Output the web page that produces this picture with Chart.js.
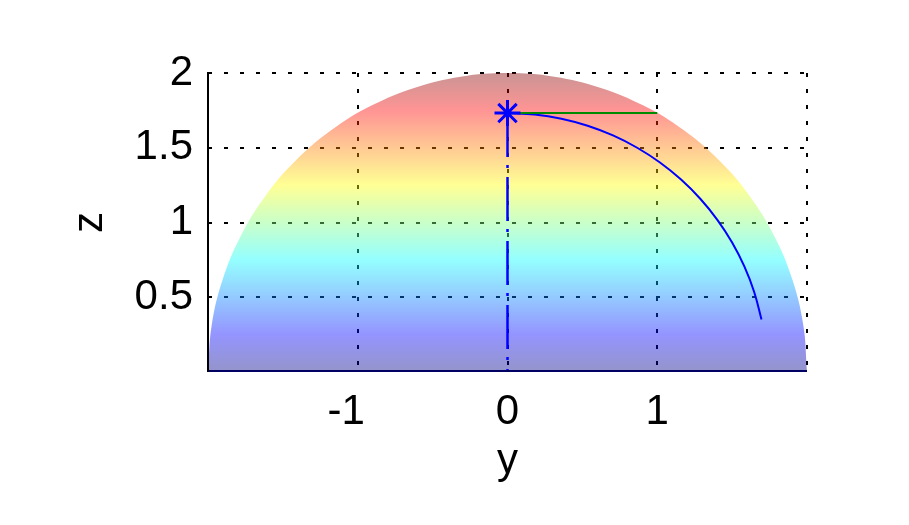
<!DOCTYPE html>
<html>
<head>
<meta charset="utf-8">
<script src="https://cdn.jsdelivr.net/npm/chart.js@4.4.1/dist/chart.umd.min.js"></script>
<style>
html,body{margin:0;padding:0;background:#ffffff;}
#c{display:block;}
</style>
</head>
<body>
<canvas id="c" width="909" height="525"></canvas>
<script>
// ---- data ----
// silhouette of the hemisphere (radius 2), horizontal coordinate "y", vertical "z"
const domeY = [-2, -1.9754, -1.9021, -1.7820, -1.6180, -1.4142, -1.1756, -0.9080, -0.6180, -0.3129, 0,
               0.3129, 0.6180, 0.9080, 1.1756, 1.4142, 1.6180, 1.7820, 1.9021, 1.9754, 2];
const domeZ = [0, 0.3129, 0.6180, 0.9080, 1.1756, 1.4142, 1.6180, 1.7820, 1.9021, 1.9754, 2,
               1.9754, 1.9021, 1.7820, 1.6180, 1.4142, 1.1756, 0.9080, 0.6180, 0.3129, 0];
// blue trajectory
const arcY = [0, 0.1811, 0.3601, 0.5353, 0.7045, 0.8660, 1.0181, 1.1590, 1.2872, 1.4013, 1.5, 1.5823, 1.6473, 1.6961];
const arcZ = [1.7321, 1.7226, 1.6943, 1.6473, 1.5823, 1.5, 1.4013, 1.2872, 1.1590, 1.0181, 0.8660, 0.7045, 0.5353, 0.3513];
// green segment
const greenY = [0, 1];
const greenZ = [1.7321, 1.7321];
// dash-dot drop line
const dropY = [0, 0];
const dropZ = [1.7321, 0];
// star marker
const markerY = [0];
const markerZ = [1.7321];
// ticks
const xTickValues = [-1, 0, 1];
const xTickLabels = ['-1', '0', '1'];
const xGridValues = [-1, 0, 1, 2];
const yTickValues = [0.5, 1, 1.5, 2];
const yTickLabels = ['0.5', '1', '1.5', '2'];
const xTitle = 'y';
const yTitle = 'z';

// ---- helpers ----
const FONT = "'Liberation Sans', Arial, Helvetica, sans-serif";
const pts = (xs, ys) => xs.map((x, i) => ({x: x, y: ys[i]}));

function jetFill(context) {
  const chart = context.chart;
  const {ctx, chartArea, scales} = chart;
  if (!chartArea) return 'rgba(0,0,0,0)';
  const y0 = scales.y.getPixelForValue(0);
  const y1 = scales.y.getPixelForValue(2);
  const g = ctx.createLinearGradient(0, y0, 0, y1);
  const a = 0.42;
  const stops = [[0, [0, 0, 128]], [0.125, [0, 0, 255]], [0.375, [0, 255, 255]],
                 [0.625, [255, 255, 0]], [0.875, [255, 0, 0]], [1, [128, 0, 0]]];
  stops.forEach(([t, c]) => g.addColorStop(t, `rgba(${c[0]},${c[1]},${c[2]},${a})`));
  return g;
}

const axisLines = {
  id: 'axisLines',
  afterDatasetsDraw(chart) {
    const {ctx, chartArea: ca} = chart;
    ctx.save();
    ctx.lineCap = 'butt';
    ctx.strokeStyle = '#000064';
    ctx.lineWidth = 2;
    ctx.beginPath();
    ctx.moveTo(ca.left, ca.bottom - 1);
    ctx.lineTo(ca.right, ca.bottom - 1);
    ctx.stroke();
    ctx.strokeStyle = '#000000';
    ctx.lineWidth = 2;
    ctx.beginPath();
    ctx.moveTo(ca.left, ca.top - 1);
    ctx.lineTo(ca.left, ca.bottom);
    ctx.stroke();
    ctx.restore();
  }
};

new Chart(document.getElementById('c'), {
  type: 'scatter',
  data: {
    datasets: [
      {
        label: 'marker',
        data: pts(markerY, markerZ),
        pointStyle: 'star',
        pointRadius: 13,
        pointBorderColor: '#0000ff',
        pointBackgroundColor: '#0000ff',
        pointBorderWidth: 3,
        showLine: false
      },
      {
        label: 'green',
        data: pts(greenY, greenZ),
        showLine: true,
        borderColor: '#008a00',
        borderWidth: 2,
        pointRadius: 0
      },
      {
        label: 'arc',
        data: pts(arcY, arcZ),
        showLine: true,
        borderColor: '#0000ff',
        borderWidth: 2,
        tension: 0.4,
        pointRadius: 0
      },
      {
        label: 'drop',
        data: pts(dropY, dropZ),
        showLine: true,
        borderColor: '#0000ff',
        borderWidth: 2.5,
        borderDash: [44, 8, 3, 9],
        pointRadius: 0
      },
      {
        label: 'dome',
        data: pts(domeY, domeZ),
        showLine: true,
        tension: 0.4,
        borderWidth: 0,
        borderColor: 'rgba(0,0,0,0)',
        backgroundColor: jetFill,
        fill: 'origin',
        pointRadius: 0
      }
    ]
  },
  options: {
    responsive: false,
    animation: false,
    devicePixelRatio: 1,
    layout: {padding: {top: 73, right: 102, left: 0, bottom: 0}},
    plugins: {legend: {display: false}, tooltip: {enabled: false}},
    scales: {
      x: {
        type: 'linear',
        min: -2,
        max: 2,
        afterBuildTicks: s => { s.ticks = xGridValues.map(v => ({value: v})); },
        afterFit: s => { s.height = 153; },
        ticks: {
          autoSkip: false,
          maxRotation: 0,
          padding: 15,
          color: '#000',
          font: {family: FONT, size: 42},
          callback: v => {
            const i = xTickValues.indexOf(v);
            if (i < 0) return '';
            const l = xTickLabels[i];
            return l.charAt(0) === '-' ? l + '  ' : l;
          }
        },
        grid: {color: '#000', lineWidth: 2, drawTicks: false},
        border: {display: false, dash: [4, 12]},
        title: {display: true, text: xTitle, color: '#000', font: {family: FONT, size: 42}, padding: {top: 0, bottom: 38}}
      },
      y: {
        type: 'linear',
        min: 0,
        max: 2,
        afterBuildTicks: s => { s.ticks = yTickValues.map(v => ({value: v})); },
        afterFit: s => { s.width = 208; },
        ticks: {
          autoSkip: false,
          padding: 15,
          color: '#000',
          font: {family: FONT, size: 42},
          callback: v => {
            const i = yTickValues.indexOf(v);
            return i < 0 ? '' : yTickLabels[i];
          }
        },
        grid: {color: '#000', lineWidth: 2, drawTicks: false},
        border: {display: false, dash: [4, 12]},
        title: {display: true, text: yTitle, color: '#000', font: {family: FONT, size: 42}, padding: {top: 65, bottom: 0}}
      }
    }
  },
  plugins: [axisLines]
});
</script>
</body>
</html>
